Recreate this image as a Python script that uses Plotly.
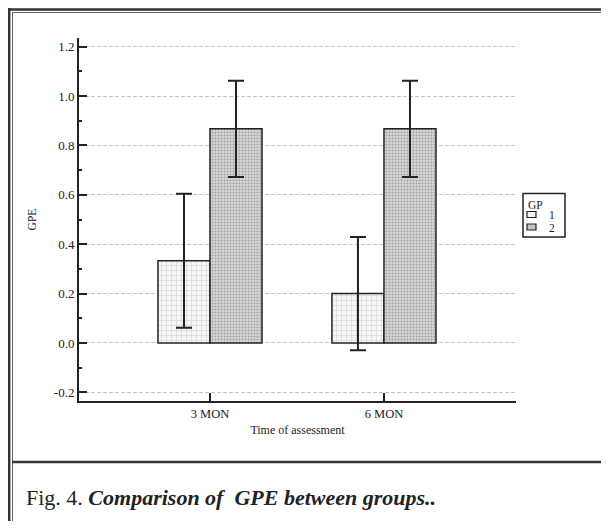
import plotly.graph_objects as go

# ---- data ----
categories = ["3 MON", "6 MON"]
groups = ["1", "2"]
gp1_mean = [0.333, 0.200]
gp1_err = [0.271, 0.229]
gp2_mean = [0.867, 0.867]
gp2_err = [0.195, 0.195]
y_ticks = [-0.2, 0.0, 0.2, 0.4, 0.6, 0.8, 1.0, 1.2]
y_ticklabels = ["-0.2", "0.0", "0.2", "0.4", "0.6", "0.8", "1.0", "1.2"]

# page is rendered with an 8px body margin, so figure = page - 8
OFF = 8
W, H = 609 - OFF, 529 - 2 * OFF
ML, MT = 79 - OFF, 38 - OFF
MR = (OFF + W) - 516
MB = (OFF + H) - 401
PW, PH = W - ML - MR, H - MT - MB

def px(x):  # page pixel -> paper x
    return (x - OFF - ML) / PW

def py(y):  # page pixel -> paper y
    return (H - MB - (y - OFF)) / PH

SERIF = "Liberation Serif, Times New Roman, serif"
INK = "#222222"
G1_FILL = "#f2f2f2"
G2_FILL = "#d2d2d2"

fig = go.Figure()
fig.add_trace(go.Bar(
    name=groups[0], x=categories, y=gp1_mean, showlegend=False,
    error_y=dict(type="data", array=gp1_err, color=INK, thickness=2, width=8),
    marker=dict(color=G1_FILL, line=dict(color=INK, width=1.5),
                pattern=dict(shape="+", size=5, solidity=0.2,
                             fgcolor="#cdcdcd", bgcolor="#f6f6f6", fillmode="replace")),
))
fig.add_trace(go.Bar(
    name=groups[1], x=categories, y=gp2_mean, showlegend=False,
    error_y=dict(type="data", array=gp2_err, color=INK, thickness=2, width=8),
    marker=dict(color=G2_FILL, line=dict(color=INK, width=1.5),
                pattern=dict(shape=".", size=3, solidity=0.35,
                             fgcolor="#a0a0a0", bgcolor="#d8d8d8", fillmode="replace")),
))

shapes = []
def hline(y, x0, x1, w, c):
    shapes.append(dict(type="line", xref="paper", yref="paper",
                       x0=px(x0), x1=px(x1), y0=py(y), y1=py(y),
                       line=dict(color=c, width=w)))
def vline(x, y0, y1, w, c):
    shapes.append(dict(type="line", xref="paper", yref="paper",
                       x0=px(x), x1=px(x), y0=py(y0), y1=py(y1),
                       line=dict(color=c, width=w)))
def rect(x0, y0, x1, y1, w, c, fill):
    shapes.append(dict(type="rect", xref="paper", yref="paper",
                       x0=px(x0), x1=px(x1), y0=py(y0), y1=py(y1),
                       line=dict(color=c, width=w), fillcolor=fill))

# outer frame
hline(9.5, 8, 617, 2.5, "#333333")
hline(12.5, 12, 617, 1, "#666666")
vline(9.2, 8, 537, 2.5, "#333333")
vline(12.5, 12, 537, 1, "#666666")
hline(462, 12, 617, 2.5, "#333333")

# legend box (custom, compact like the original)
rect(523, 193.5, 565, 237, 1.5, INK, "white")
rect(527, 211.5, 536, 217.5, 1.2, INK, G1_FILL)
rect(527, 224, 536, 230, 1.2, INK, "#c4c4c4")

annotations = [
    dict(text="GP", xref="paper", yref="paper", x=px(526), y=py(204.5),
         xanchor="left", yanchor="middle", showarrow=False,
         font=dict(family=SERIF, size=11.5, color=INK)),
    dict(text=groups[0], xref="paper", yref="paper", x=px(547), y=py(215),
         xanchor="left", yanchor="middle", showarrow=False,
         font=dict(family=SERIF, size=11.5, color=INK)),
    dict(text=groups[1], xref="paper", yref="paper", x=px(547), y=py(227.5),
         xanchor="left", yanchor="middle", showarrow=False,
         font=dict(family=SERIF, size=11.5, color=INK)),
    dict(text="Fig. 4. <b><i>Comparison of\u00a0 GPE between groups..</i></b>",
         xref="paper", yref="paper", x=px(24), y=py(497),
         xanchor="left", yanchor="middle", showarrow=False,
         font=dict(family=SERIF, size=22, color="#222222")),
]

fig.update_layout(
    width=W, height=H,
    margin=dict(l=ML, r=MR, t=MT, b=MB, autoexpand=False),
    paper_bgcolor="white", plot_bgcolor="white",
    barmode="group", bargap=0.402, bargroupgap=0,
    font=dict(family=SERIF, color=INK, size=12),
    shapes=shapes, annotations=annotations,
    showlegend=False,
)

fig.update_xaxes(
    type="category", range=[-0.753, 1.759],
    showline=True, linecolor=INK, linewidth=2,
    ticks="inside", ticklen=8, tickwidth=2, tickcolor=INK,
    showgrid=False, zeroline=False,
    tickfont=dict(size=12.5, family=SERIF),
    title=dict(text="Time of assessment", font=dict(size=12, family=SERIF), standoff=6),
)
fig.update_yaxes(
    range=[-0.235, 1.235],
    tickvals=y_ticks, ticktext=y_ticklabels,
    showline=True, linecolor=INK, linewidth=2,
    ticks="inside", ticklen=8, tickwidth=2, tickcolor=INK,
    minor=dict(ticks="inside", ticklen=3, tickwidth=1.5, tickcolor=INK,
               dtick=0.1, tick0=0, showgrid=False),
    showgrid=True, gridcolor="#c4c4c4", gridwidth=1, griddash="4px,2px",
    zeroline=False,
    tickfont=dict(size=13, family=SERIF),
    title=dict(text="GPE", font=dict(size=11.5, family=SERIF), standoff=15),
)

fig.write_html("out.html")
